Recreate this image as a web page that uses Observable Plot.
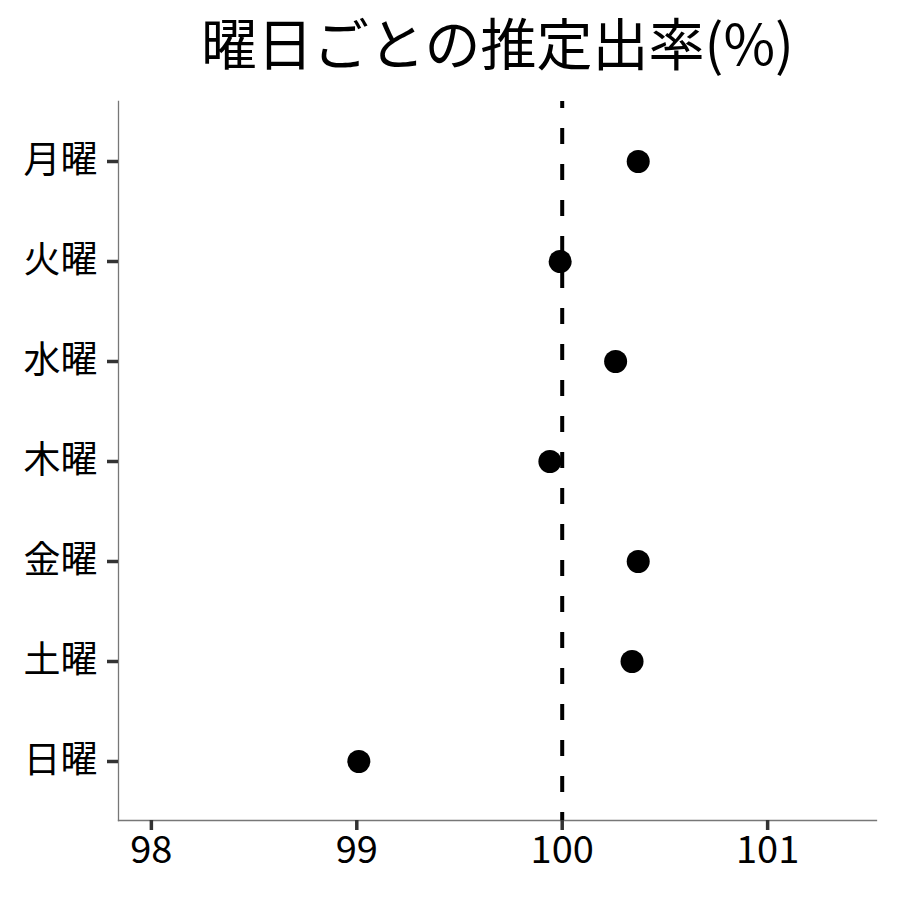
<!DOCTYPE html>
<html>
<head>
<meta charset="utf-8">
<script src="https://cdn.jsdelivr.net/npm/d3@7"></script>
<script src="https://cdn.jsdelivr.net/npm/@observablehq/plot@0.6"></script>
<style>
  body { margin: 0; background: #fff; font-family: "Noto Sans CJK JP", sans-serif; }
  #title { height: 90px; line-height: 82px; text-align: center; font-size: 56px; color: #000; padding-left: 95px; box-sizing: border-box; width: 900px; overflow: hidden; }
</style>
</head>
<body>
<div id="title">曜日ごとの推定出率(%)</div>
<div id="chart"></div>
<script>
const days = ["月曜", "火曜", "水曜", "木曜", "金曜", "土曜", "日曜"];
const rates = [100.37, 99.99, 100.26, 99.94, 100.37, 100.34, 99.01];
const referenceLine = [100];
const xTicks = [98, 99, 100, 101];
const xDomain = [97.84, 101.53];

const data = days.map((d, i) => ({day: d, rate: rates[i]}));

const plot = Plot.plot({
  width: 900,
  height: 810,
  marginTop: 11,
  marginBottom: 80,
  marginLeft: 118,
  marginRight: 24,
  style: { fontFamily: "Noto Sans CJK JP, sans-serif", fontSize: "38px", color: "#000", background: "#fff" },
  x: { domain: xDomain, ticks: xTicks, label: null },
  y: { type: "point", domain: days, padding: 0.59, label: null },
  marks: [
    Plot.frame({ anchor: "left", stroke: "#777", strokeWidth: 1.3 }),
    Plot.frame({ anchor: "bottom", stroke: "#777", strokeWidth: 1.3 }),
    Plot.axisX({ ticks: xTicks, tickSize: 10, tickPadding: 6, stroke: "#333", strokeWidth: 3.5, fill: "#000", tickFormat: d => String(d), label: null, fontSize: 38 }),
    Plot.axisY({ tickSize: 11, tickPadding: 10, stroke: "#333", strokeWidth: 3.5, fill: "#000", label: null, fontSize: 37 }),
    Plot.ruleX(referenceLine, { stroke: "#000", strokeWidth: 4, strokeDasharray: "16,20", strokeDashoffset: 9 }),
    Plot.dot(data, { x: "rate", y: "day", r: 11.5, fill: "#000", stroke: "none" })
  ]
});
document.getElementById("chart").appendChild(plot);
</script>
</body>
</html>
